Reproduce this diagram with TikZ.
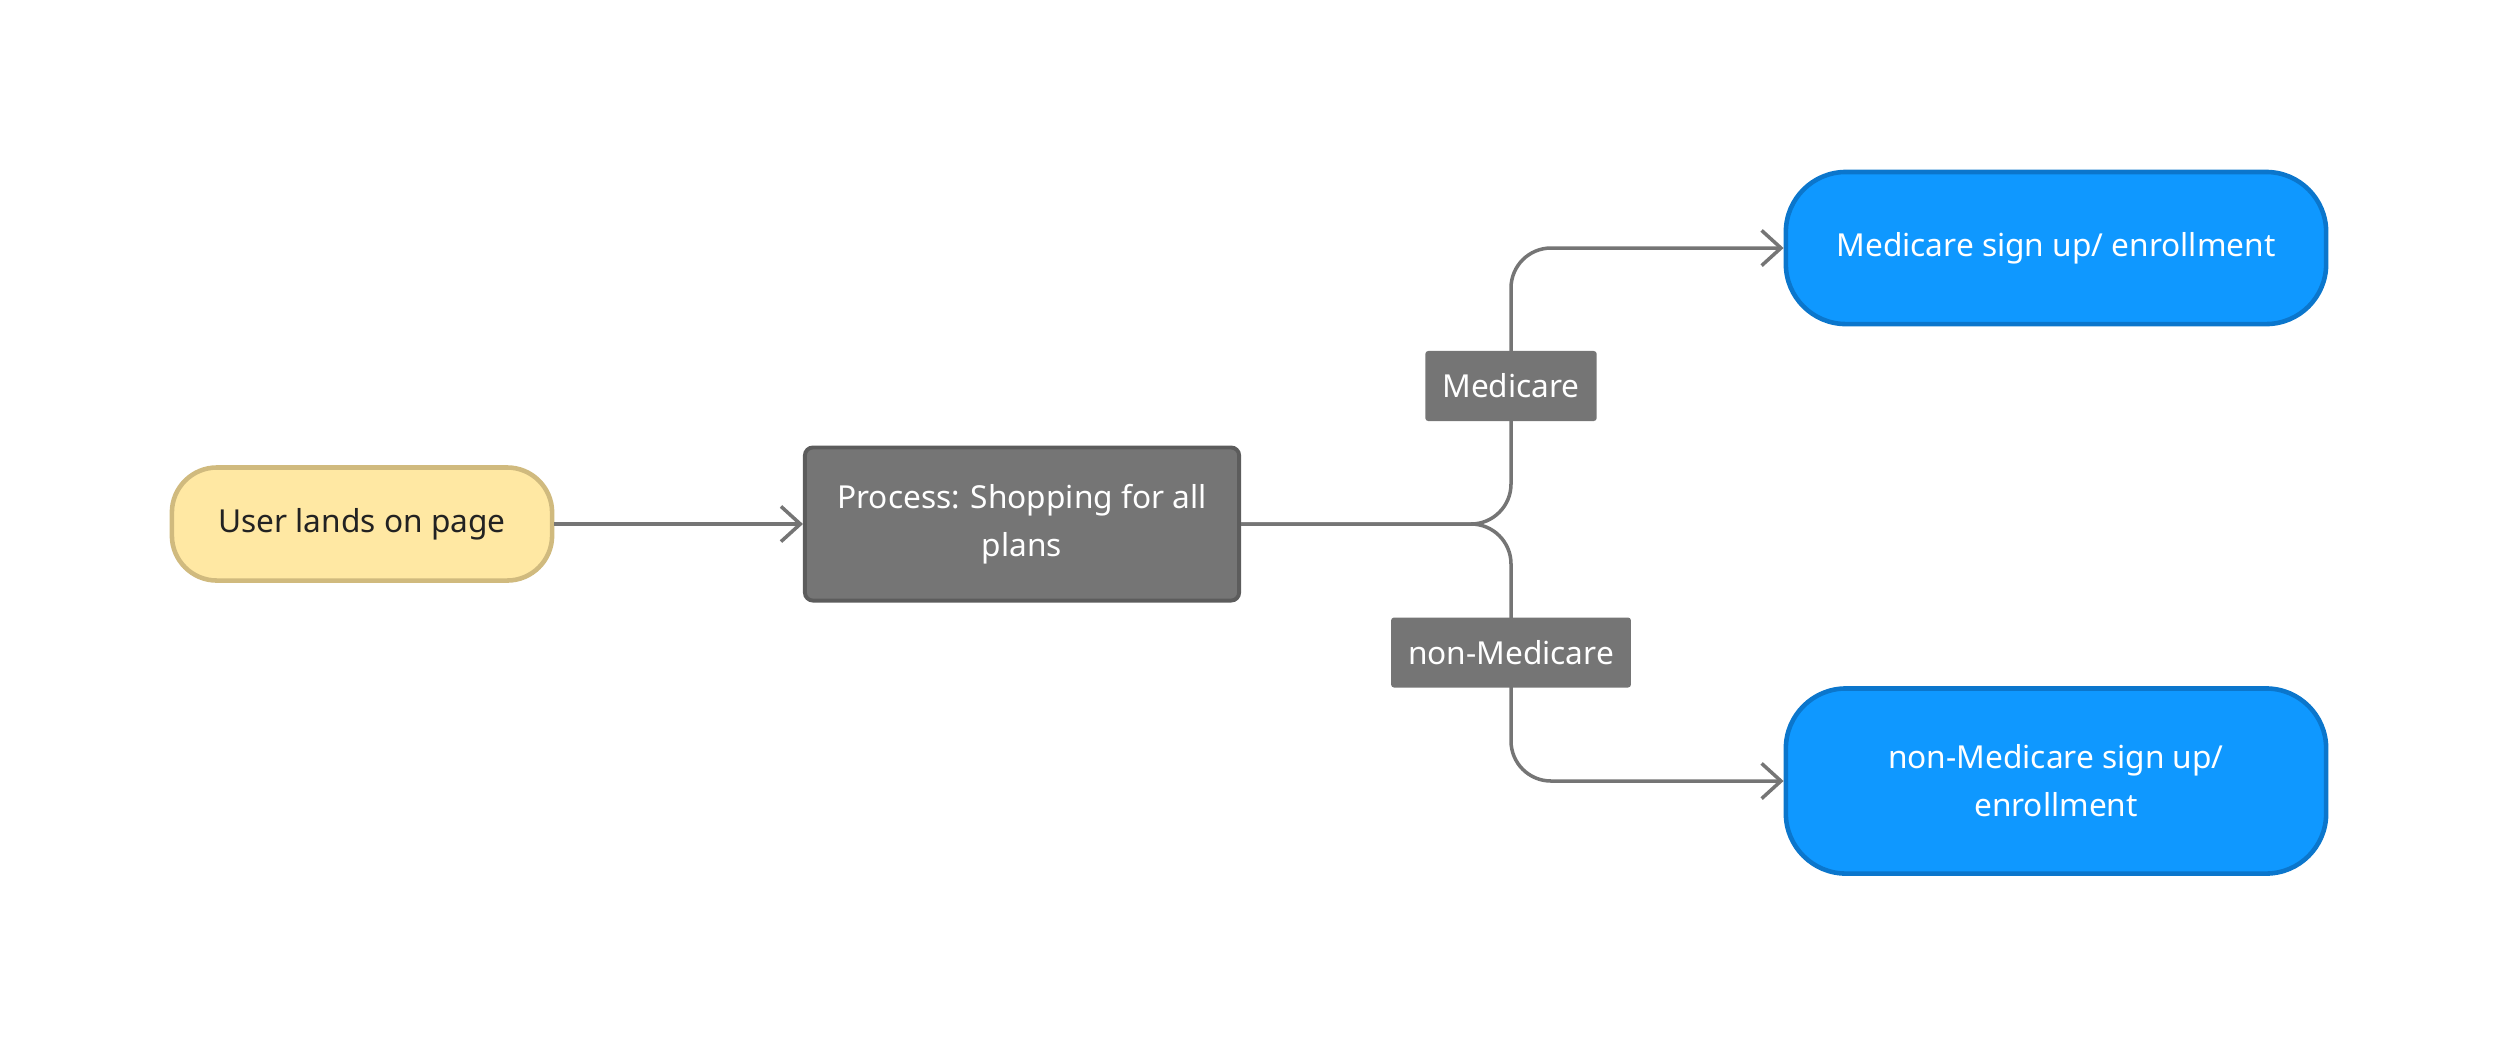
\documentclass[tikz,border=0pt]{standalone}
\usepackage{fontspec}
\setmainfont{Noto Sans}
\usepackage{xcolor}
\usetikzlibrary{arrows.meta}
\definecolor{myyellow}{RGB}{255,232,163}
\definecolor{myyellowline}{RGB}{208,186,126}
\definecolor{mygray}{RGB}{117,117,117}
\definecolor{mygrayline}{RGB}{92,92,92}
\definecolor{myblue}{RGB}{15,152,255}
\definecolor{mybluedark}{RGB}{11,118,204}
\definecolor{mytext}{RGB}{34,34,34}

\tikzset{
box/.style={draw, line width=1.3pt, align=center, inner sep=0pt, font=\fontsize{9}{13.7}\selectfont},
start/.style={box, fill=myyellow, draw=myyellowline, text=mytext, minimum width=3.8cm, minimum height=1.13cm, rounded corners=0.45cm},
process/.style={box, fill=mygray, draw=mygrayline, line width=1.1pt, text=white, minimum width=4.34cm, minimum height=1.53cm, rounded corners=0.08cm},
goal/.style={box, fill=myblue, draw=mybluedark, text=white, minimum width=5.4cm, minimum height=1.52cm, rounded corners=0.6cm},
tag/.style={fill=mygray, text=white, inner xsep=0.17cm, inner ysep=0pt, minimum height=0.7cm, rounded corners=0.03cm, font=\fontsize{9}{13.7}\selectfont},
link/.style={draw=mygray, line width=1pt, -{Straight Barb[length=5.5pt, width=10pt]}}
}

\begin{document}
\begin{tikzpicture}[x=0.01cm, y=-0.01cm]
\useasboundingbox (0,0) rectangle (2500,1047);

\node[start] (user) at (362,524) {User lands on page};
\node[process] (proc) at (1022,524) {Process: Shopping for all\\plans};
\node[goal] (med) at (2056,248) {Medicare sign up/ enrollment};
\node[goal, minimum height=1.85cm] (nonmed) at (2056,781) {non-Medicare sign up/\\enrollment};
\coordinate (split) at (1511,524);

\draw[link] (user) -- (proc);
\draw[link, rounded corners=0.4cm] (proc.east) -- (split) |- node[tag, pos=0.25] (medtag) {Medicare} (med.west);
\draw[link, rounded corners=0.4cm] (proc.east) -- (split) |- node[tag, pos=0.25] (nonmedtag) {non-Medicare} (nonmed.west);

\end{tikzpicture}
\end{document}
